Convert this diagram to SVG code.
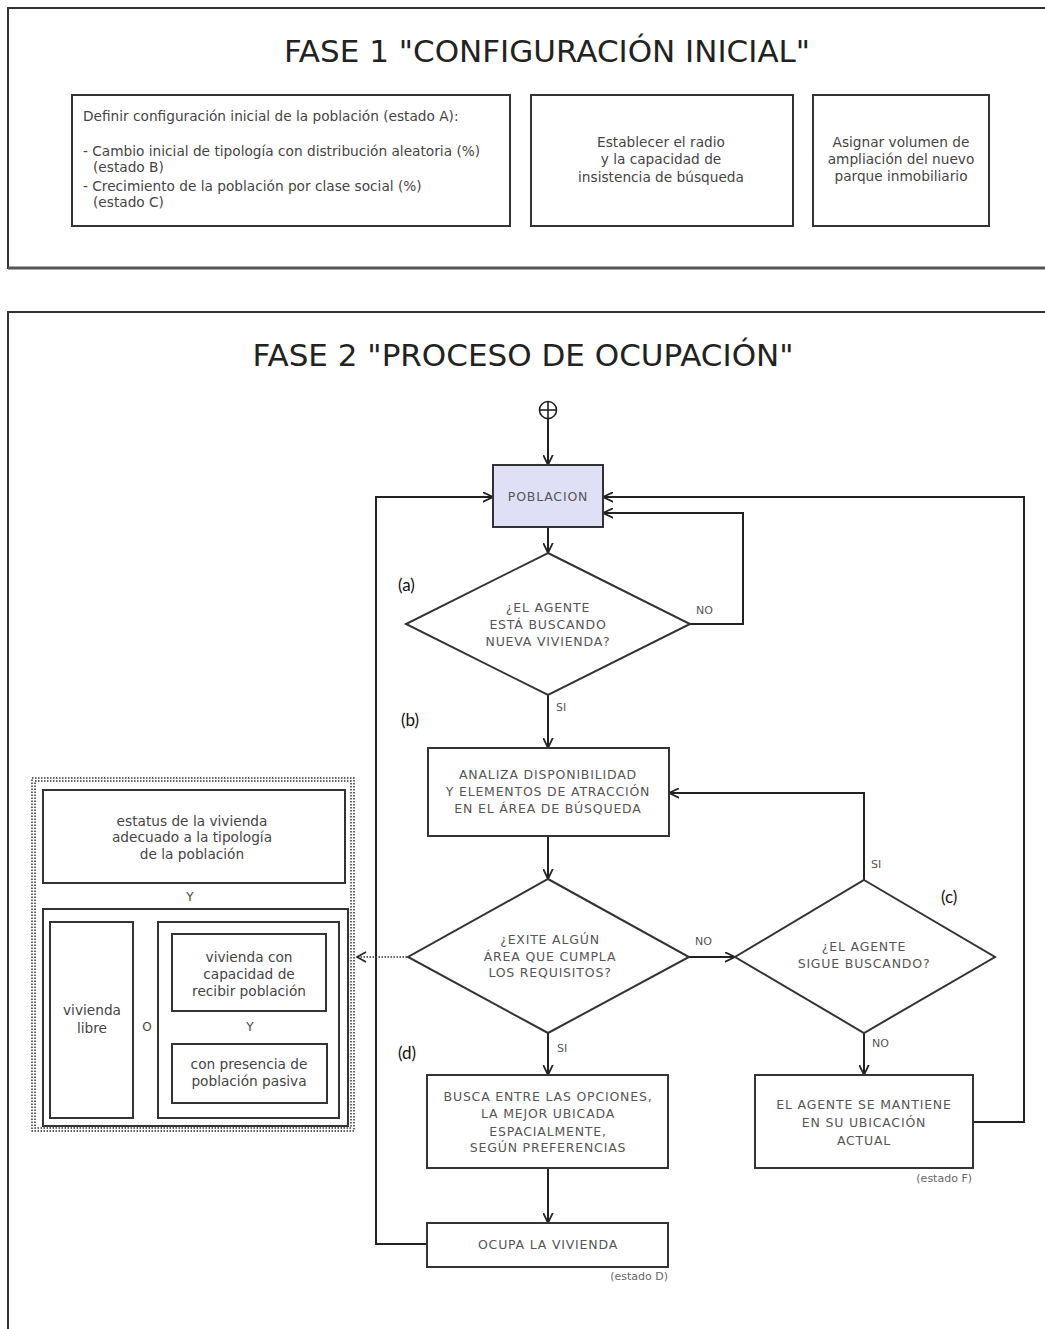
<svg xmlns="http://www.w3.org/2000/svg" width="1045" height="1329" viewBox="0 0 1045 1329">
<style>
.frame{fill:none;stroke:#333;stroke-width:2}
.box{fill:#fff;stroke:#333;stroke-width:2}
.title{font-family:"DejaVu Sans",sans-serif;font-size:31px;fill:#222;text-anchor:middle}
.t1{font-family:"DejaVu Sans",sans-serif;font-size:13.7px;fill:#444}
.tc{font-family:"DejaVu Sans",sans-serif;font-size:13.7px;fill:#444;text-anchor:middle}
.up{font-family:"DejaVu Sans",sans-serif;font-size:12.5px;fill:#555;text-anchor:middle;letter-spacing:0.8px}
.lbl{font-family:"DejaVu Sans",sans-serif;font-size:11px;fill:#555}
.st{font-family:"DejaVu Sans",sans-serif;font-size:11px;fill:#666;text-anchor:end}
.let{font-family:Lato,"Open Sans",sans-serif;font-size:17px;fill:#111}
.con{fill:none;stroke:#222;stroke-width:2}
.dot{fill:none;stroke:#333;stroke-width:1.5;stroke-dasharray:1.5 1.5}
</style>
<defs>
<marker id="arr" viewBox="0 0 10 10" refX="9.5" refY="5" markerWidth="11" markerHeight="11" markerUnits="userSpaceOnUse" orient="auto">
<path d="M0,0.5 L9.5,5 L0,9.5" fill="none" stroke="#222" stroke-width="1.6"/>
</marker>
</defs>
<rect width="1045" height="1329" fill="#fff"/>

<g id="fase1">
<path class="frame" d="M1046,8 L8,8 L8,268 L1046,268"/>
<line x1="8" y1="268" x2="1046" y2="268" stroke="#555" stroke-width="3"/>
<text class="title" x="547" y="62">FASE 1 "CONFIGURACIÓN INICIAL"</text>
</g>
<g id="config-poblacion">
<rect class="box" x="72" y="95" width="438" height="131"/>
<text class="t1" x="83" y="121">Definir configuración inicial de la población (estado A):</text>
<text class="t1" x="83" y="156">- Cambio inicial de tipología con distribución aleatoria (%)</text>
<text class="t1" x="93" y="172">(estado B)</text>
<text class="t1" x="83" y="191">- Crecimiento de la población por clase social (%)</text>
<text class="t1" x="93" y="207">(estado C)</text>
</g>
<g id="radio">
<rect class="box" x="531" y="95" width="262" height="131"/>
<text class="tc" x="661" y="147">Establecer el radio</text>
<text class="tc" x="661" y="164">y la capacidad de</text>
<text class="tc" x="661" y="182">insistencia de búsqueda</text>
</g>
<g id="volumen">
<rect class="box" x="813" y="95" width="176" height="131"/>
<text class="tc" x="901" y="147">Asignar volumen de</text>
<text class="tc" x="901" y="164">ampliación del nuevo</text>
<text class="tc" x="901" y="181">parque inmobiliario</text>
</g>

<g id="fase2">
<path class="frame" d="M1046,312 L8,312 L8,1340"/>
<text class="title" x="523" y="366">FASE 2 "PROCESO DE OCUPACIÓN"</text>
</g>

<g id="connectors">
<path class="con" d="M548,419 L548,465" marker-end="url(#arr)"/>
<path class="con" d="M548,527 L548,553" marker-end="url(#arr)"/>
<path class="con" d="M690,624 L743,624 L743,513 L603,513" marker-end="url(#arr)"/>
<path class="con" d="M548,695 L548,748" marker-end="url(#arr)"/>
<path class="con" d="M548,836 L548,879" marker-end="url(#arr)"/>
<path class="con" d="M689,957 L735,957" marker-end="url(#arr)"/>
<path class="con" d="M864,880 L864,793 L669,793" marker-end="url(#arr)"/>
<path class="con" d="M864,1033 L864,1075" marker-end="url(#arr)"/>
<path class="con" d="M548,1033 L548,1075" marker-end="url(#arr)"/>
<path class="con" d="M548,1168 L548,1223" marker-end="url(#arr)"/>
<path class="con" d="M427,1244 L376,1244 L376,497 L493,497" marker-end="url(#arr)"/>
<path class="con" d="M973,1122 L1024,1122 L1024,497 L603,497" marker-end="url(#arr)"/>
<path d="M407,957 L357,957" fill="none" stroke="#333" stroke-width="1.5" stroke-dasharray="1.5 1.5"/>
<path d="M366,952 L357,957 L366,962" fill="none" stroke="#222" stroke-width="1.6"/>
<text class="lbl" x="696" y="614">NO</text>
<text class="lbl" x="556" y="711">SI</text>
<text class="lbl" x="871" y="868">SI</text>
<text class="lbl" x="695" y="945">NO</text>
<text class="lbl" x="557" y="1052">SI</text>
<text class="lbl" x="872" y="1047">NO</text>
</g>

<g id="inicio">
<circle cx="548" cy="410" r="8.5" fill="#fff" stroke="#222" stroke-width="1.6"/>
<line x1="539.5" y1="410" x2="556.5" y2="410" stroke="#222" stroke-width="1.6"/>
<line x1="548" y1="401.5" x2="548" y2="418.5" stroke="#222" stroke-width="1.6"/>
</g>
<g id="poblacion">
<rect x="493" y="465" width="110" height="62" fill="#dfe0f5" stroke="#333" stroke-width="2"/>
<text class="up" x="548" y="501">POBLACION</text>
</g>
<g id="decision-buscando">
<polygon class="box" points="548,553 690,624 548,695 406,624"/>
<text class="up" x="548" y="612">¿EL AGENTE</text>
<text class="up" x="548" y="629">ESTÁ BUSCANDO</text>
<text class="up" x="548" y="646">NUEVA VIVIENDA?</text>
<text class="let" x="398" y="591">(a)</text>
</g>
<g id="analiza">
<rect class="box" x="428" y="748" width="241" height="88"/>
<text class="up" x="548" y="779">ANALIZA DISPONIBILIDAD</text>
<text class="up" x="548" y="796">Y ELEMENTOS DE ATRACCIÓN</text>
<text class="up" x="548" y="813">EN EL ÁREA DE BÚSQUEDA</text>
<text class="let" x="401" y="726">(b)</text>
</g>
<g id="decision-area">
<polygon class="box" points="548,879 689,957 548,1033 408,957"/>
<text class="up" x="550" y="944">¿EXITE ALGÚN</text>
<text class="up" x="550" y="961">ÁREA QUE CUMPLA</text>
<text class="up" x="550" y="977">LOS REQUISITOS?</text>
<text class="let" x="398" y="1059">(d)</text>
</g>
<g id="decision-sigue">
<polygon class="box" points="864,880 995,957 864,1033 735,957"/>
<text class="up" x="864" y="951">¿EL AGENTE</text>
<text class="up" x="864" y="968">SIGUE BUSCANDO?</text>
<text class="let" x="941" y="903">(c)</text>
</g>
<g id="busca">
<rect class="box" x="427" y="1075" width="241" height="93"/>
<text class="up" x="548" y="1101">BUSCA ENTRE LAS OPCIONES,</text>
<text class="up" x="548" y="1118">LA MEJOR UBICADA</text>
<text class="up" x="548" y="1136">ESPACIALMENTE,</text>
<text class="up" x="548" y="1152">SEGÚN PREFERENCIAS</text>
</g>
<g id="ocupa">
<rect class="box" x="427" y="1223" width="241" height="44"/>
<text class="up" x="548" y="1249">OCUPA LA VIVIENDA</text>
<text class="st" x="668" y="1280">(estado D)</text>
</g>
<g id="mantiene">
<rect class="box" x="755" y="1075" width="218" height="93"/>
<text class="up" x="864" y="1109">EL AGENTE SE MANTIENE</text>
<text class="up" x="864" y="1127">EN SU UBICACIÓN</text>
<text class="up" x="864" y="1145">ACTUAL</text>
<text class="st" x="972" y="1182">(estado F)</text>
</g>

<g id="requisitos">
<rect class="dot" x="32" y="778" width="322" height="353"/>
<rect class="dot" x="35" y="781" width="316" height="347"/>
<rect class="box" x="43" y="790" width="302" height="93"/>
<text class="tc" x="192" y="826">estatus de la vivienda</text>
<text class="tc" x="192" y="842">adecuado a la tipología</text>
<text class="tc" x="192" y="859">de la población</text>
<text class="tc" x="190" y="901" style="font-size:12px">Y</text>
<rect class="box" x="43" y="909" width="305" height="217"/>
<rect class="box" x="50" y="922" width="83" height="196"/>
<text class="tc" x="92" y="1015">vivienda</text>
<text class="tc" x="92" y="1033">libre</text>
<text class="tc" x="147" y="1031" style="font-size:12px">O</text>
<rect class="box" x="158" y="922" width="181" height="196"/>
<rect class="box" x="172" y="934" width="154" height="77"/>
<text class="tc" x="249" y="962">vivienda con</text>
<text class="tc" x="249" y="979">capacidad de</text>
<text class="tc" x="249" y="996">recibir población</text>
<text class="tc" x="250" y="1031" style="font-size:12px">Y</text>
<rect class="box" x="172" y="1044" width="155" height="59"/>
<text class="tc" x="249" y="1069">con presencia de</text>
<text class="tc" x="249" y="1086">población pasiva</text>
</g>
</svg>
